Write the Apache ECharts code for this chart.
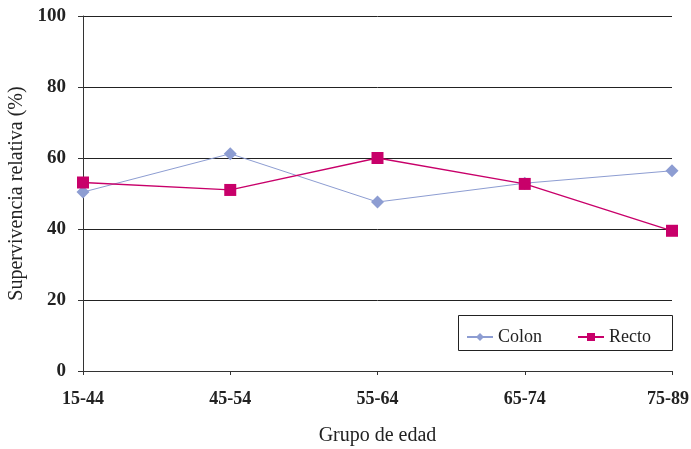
<!DOCTYPE html>
<html>
<head>
<meta charset="utf-8">
<script src="https://cdn.jsdelivr.net/npm/echarts@6/dist/echarts.min.js"></script>
<style>
  html, body { margin: 0; padding: 0; background: #fff; }
  #chart { width: 691px; height: 449px; }
</style>
</head>
<body>
<div id="chart"></div>
<script>
// Age groups and relative survival (%) by tumour site
const ageGroups = ['15-44', '45-54', '55-64', '65-74', '75-89'];
const colon = [50.4, 61.2, 47.6, 52.9, 56.4];
const recto = [53.1, 51.0, 60.0, 52.7, 39.5];
const yTicks = { min: 0, max: 100, interval: 20 };

const serif = '"Liberation Serif", "DejaVu Serif", serif';
const chart = echarts.init(document.getElementById('chart'), null, { renderer: 'canvas' });

const tickFont = { fontFamily: serif, fontSize: 18, fontWeight: 'bold', color: '#222' };

chart.setOption({
  animation: false,
  backgroundColor: '#ffffff',
  grid: {
    left: 83, right: 19, top: 16, bottom: 78,
    containLabel: false,
    outerBoundsMode: 'none'
  },
  xAxis: {
    type: 'category',
    data: ageGroups,
    boundaryGap: false,
    name: 'Grupo de edad',
    nameLocation: 'middle',
    nameGap: 55,
    nameTextStyle: { fontFamily: serif, fontSize: 20, color: '#222' },
    axisLine: { lineStyle: { color: '#333', width: 1 } },
    axisTick: { show: true, length: 4, lineStyle: { color: '#333' } },
    axisLabel: Object.assign({}, tickFont, {
      margin: 19,
      // keep the last label inside the canvas edge
      formatter: function (v, i) {
        return i === ageGroups.length - 1 ? '{last|' + v + '}' : v;
      },
      rich: { last: Object.assign({}, tickFont, { padding: [0, 8, 0, 0] }) }
    }),
    splitLine: { show: false }
  },
  yAxis: {
    type: 'value',
    min: yTicks.min,
    max: yTicks.max,
    interval: yTicks.interval,
    name: 'Supervivencia relativa (%)',
    nameLocation: 'middle',
    nameGap: 56,
    nameTextStyle: { fontFamily: serif, fontSize: 20, color: '#222' },
    axisLine: { show: true, lineStyle: { color: '#333', width: 1 } },
    axisTick: { show: true, length: 5, lineStyle: { color: '#333' } },
    axisLabel: { fontFamily: serif, fontSize: 19, fontWeight: 'bold', color: '#222', margin: 17 },
    splitLine: { show: true, lineStyle: { color: '#222', width: 1 } }
  },
  graphic: [{
    type: 'rect',
    left: 458, top: 315,
    shape: { width: 214, height: 35 },
    style: { fill: '#ffffff', stroke: '#222', lineWidth: 1 },
    z: 10
  }],
  legend: {
    left: 461,
    top: 323,
    itemWidth: 26,
    itemHeight: 10,
    itemGap: 35,
    z: 20,
    textStyle: { fontFamily: serif, fontSize: 18, color: '#222' },
    data: ['Colon', 'Recto']
  },
  series: [
    {
      name: 'Colon',
      type: 'line',
      data: colon,
      symbol: 'diamond',
      symbolSize: 13,
      itemStyle: { color: '#8d9dd2' },
      lineStyle: { color: '#8d9dd2', width: 1 }
    },
    {
      name: 'Recto',
      type: 'line',
      data: recto,
      symbol: 'rect',
      symbolSize: 12,
      itemStyle: { color: '#c8006a' },
      lineStyle: { color: '#c8006a', width: 1.3 }
    }
  ]
});
</script>
</body>
</html>
